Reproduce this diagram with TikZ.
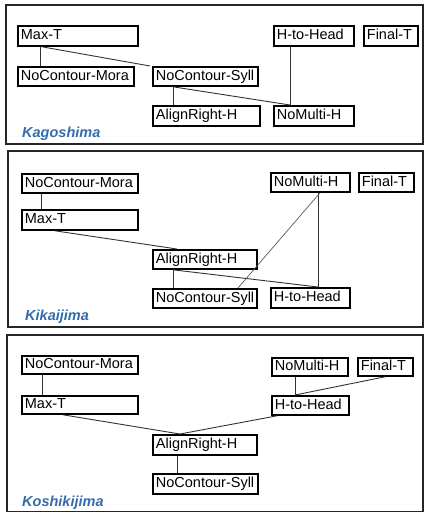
\documentclass[tikz,border=0pt]{standalone}
\usepackage{fontspec}
\setmainfont{Liberation Sans}
\usetikzlibrary{calc}
\definecolor{lblblue}{RGB}{52,108,170}
\definecolor{lnk}{RGB}{50,50,50}
\tikzset{
  bx/.style={draw=black, line width=1.8pt, anchor=north west, inner xsep=3pt, inner ysep=0pt,
    text height=10.5pt, text depth=3pt, font=\fontsize{14.5}{16}\selectfont},
  link/.style={draw=lnk, line width=0.9pt},
  thinlink/.style={draw=lnk!80, line width=0.7pt},
  panel/.style={draw=black!85, line width=1.5pt},
  place/.style={anchor=west, text=lblblue, inner sep=0pt, font=\fontsize{14.5}{16}\selectfont\bfseries\itshape}
}
\newcommand{\bxnode}[6]{\node[bx, minimum height=#5pt] (#1) at (#2,#3) {\makebox[\dimexpr#4pt-6pt\relax][l]{#6}};}
\begin{document}
\begin{tikzpicture}[x=1pt,y=-1pt]
\useasboundingbox (0,0) rectangle (425,512);
% panels
\draw[panel] (6,5) rectangle (423,144);
\draw[panel] (8,151) rectangle (423,327);
\draw[panel] (7,335) rectangle (423,511.5);

% ---------- Panel 1: Kagoshima
\bxnode{MaxTa}{17}{25}{120}{20}{Max-T}
\bxnode{NCMa}{17}{66}{116}{19}{NoContour-Mora}
\bxnode{NCSa}{152}{66}{105}{19}{NoContour-Syll}
\bxnode{ARa}{152}{105}{107}{20}{AlignRight-H}
\bxnode{NMa}{273}{105}{80}{20}{NoMulti-H}
\bxnode{HHa}{273}{25}{80}{20}{H-to-Head}
\bxnode{FTa}{363}{25}{54}{20}{Final-T}
\node[place] (Ka) at (22,134) {Kagoshima};
\draw[link] ([xshift=23pt]MaxTa.south west) -- ([xshift=23pt]NCMa.north west);
\draw[link] ([xshift=25pt]MaxTa.south west) -- ([xshift=-2pt]NCSa.north west);
\draw[link] ([xshift=21pt]NCSa.south west) -- ([xshift=21pt]ARa.north west);
\draw[link] ([xshift=21pt]NCSa.south west) -- ([xshift=17pt]NMa.north west);
\draw[link] ([xshift=17pt]HHa.south west) -- ([xshift=17pt]NMa.north west);

% ---------- Panel 2: Kikaijima
\bxnode{NCMb}{21}{173}{116}{19}{NoContour-Mora}
\bxnode{MaxTb}{21}{209}{116}{20}{Max-T}
\bxnode{ARb}{152}{249}{104}{19}{AlignRight-H}
\bxnode{NCSb}{152}{288}{104}{19}{NoContour-Syll}
\bxnode{HHb}{270}{287}{79}{20}{H-to-Head}
\bxnode{NMb}{270}{172}{79}{19}{NoMulti-H}
\bxnode{FTb}{358}{172}{55}{19}{Final-T}
\node[place] (Kb) at (25,317) {Kikaijima};
\draw[link] ([xshift=20pt]NCMb.south west) -- ([xshift=20pt]MaxTb.north west);
\draw[link] ([xshift=34pt]MaxTb.south west) -- ([xshift=25pt]ARb.north west);
\draw[link] ([xshift=21pt]ARb.south west) -- ([xshift=21pt]NCSb.north west);
\draw[link] ([xshift=21pt]ARb.south west) -- ([xshift=48pt]HHb.north west);
\draw[link] ([xshift=48pt]NMb.south west) -- ([xshift=48pt]HHb.north west);
\draw[thinlink] ([xshift=50pt]NMb.south west) -- ([xshift=86pt]NCSb.north west);

% ---------- Panel 3: Koshikijima
\bxnode{NCMc}{21}{355}{116}{18}{NoContour-Mora}
\bxnode{MaxTc}{21}{395}{116}{18}{Max-T}
\bxnode{ARc}{152}{434}{104}{20}{AlignRight-H}
\bxnode{NCSc}{152}{473}{105}{20}{NoContour-Syll}
\bxnode{NMc}{271}{357}{76}{18}{NoMulti-H}
\bxnode{FTc}{357}{357}{55}{18}{Final-T}
\bxnode{HHc}{271}{395}{77}{19}{H-to-Head}
\node[place] (Kc) at (22,503) {Koshikijima};
\draw[link] ([xshift=21pt]NCMc.south west) -- ([xshift=21pt]MaxTc.north west);
\draw[link] ([xshift=42pt]MaxTc.south west) -- ([xshift=28pt]ARc.north west);
\draw[link] ([xshift=6pt]HHc.south west) -- ([xshift=28pt]ARc.north west);
\draw[link] ([xshift=25pt]ARc.south west) -- ([xshift=25pt]NCSc.north west);
\draw[link] ([xshift=24pt]NMc.south west) -- ([xshift=24pt]HHc.north west);
\draw[link] ([xshift=28pt]FTc.south west) -- ([xshift=24pt]HHc.north west);
\end{tikzpicture}
\end{document}
